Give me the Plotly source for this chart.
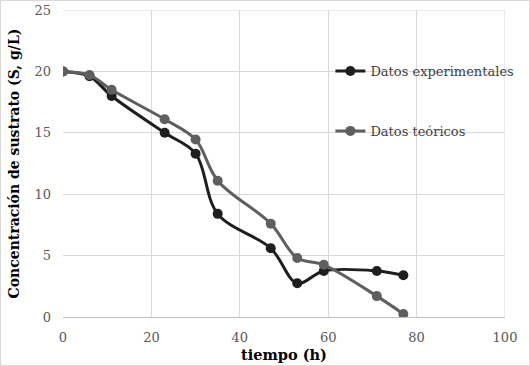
import plotly.graph_objects as go

tiempo = [0, 6, 11, 23, 30, 35, 47, 53, 59, 71, 77]
s_experimental = [20.0, 19.6, 18.0, 15.0, 13.3, 8.4, 5.6, 2.75, 3.75, 3.75, 3.4]
s_teorico = [20.0, 19.7, 18.5, 16.1, 14.45, 11.1, 7.6, 4.8, 4.25, 1.7, 0.25]

x_ticks = [0, 20, 40, 60, 80, 100]
y_ticks = [0, 5, 10, 15, 20, 25]

serif = "DejaVu Serif"
tick_color = "#595959"

fig = go.Figure()
fig.add_trace(go.Scatter(
    x=tiempo, y=s_experimental, name="Datos experimentales", legendgroup="a",
    mode="lines+markers", line=dict(color="#1e1e1e", width=3, shape="spline", smoothing=1.0),
    marker=dict(color="#1e1e1e", size=10),
))
fig.add_trace(go.Scatter(
    x=tiempo, y=s_teorico, name="Datos teóricos", legendgroup="b",
    mode="lines+markers", line=dict(color="#5f5f5f", width=3, shape="spline", smoothing=1.0),
    marker=dict(color="#5f5f5f", size=10),
))

fig.update_layout(
    width=530, height=366,
    margin=dict(l=63, r=25, t=10, b=49),
    plot_bgcolor="white", paper_bgcolor="white",
    legend=dict(x=0.605, y=0.85, xanchor="left", yanchor="top", bgcolor="rgba(0,0,0,0)",
                font=dict(family=serif, size=13, color="#404040"), itemwidth=30,
                tracegroupgap=40, traceorder="grouped"),
    xaxis=dict(range=[0, 100], tickvals=x_ticks, showgrid=True, gridcolor="#d9d9d9", gridwidth=1,
               zeroline=False, showline=True, linecolor="#bfbfbf", linewidth=1, mirror=False,
               tickfont=dict(family=serif, size=13, color=tick_color), ticks="", automargin=False,
               ticklabelstandoff=8,
               title=dict(text="<b>tiempo (h)</b>", font=dict(family=serif, size=14.5, color="black"), standoff=6)),
    yaxis=dict(range=[0, 25], tickvals=y_ticks, showgrid=True, gridcolor="#d9d9d9", gridwidth=1,
               zeroline=False, showline=False, automargin=False,
               tickfont=dict(family=serif, size=13, color=tick_color), ticks="", ticklabelstandoff=11,
               title=dict(text="<b>Concentración de sustrato (S, g/L)</b>", font=dict(family=serif, size=14, color="black"), standoff=11)),
)
fig.add_shape(type="line", xref="x", yref="y", x0=100, x1=100, y0=0, y1=25, line=dict(color="#d9d9d9", width=1), layer="below")
fig.add_shape(type="line", xref="x", yref="y", x0=0, x1=100, y0=25, y1=25, line=dict(color="#d9d9d9", width=1), layer="below")
fig.add_shape(type="rect", xref="paper", yref="paper", x0=-62.5/442, x1=1+24.5/442, y0=-48.5/307, y1=1+9.5/307,
              line=dict(color="#d9d9d9", width=1), fillcolor="rgba(0,0,0,0)")

fig.write_html("out.html", config={"displayModeBar": False},
               post_script="document.body.style.margin='0';")
